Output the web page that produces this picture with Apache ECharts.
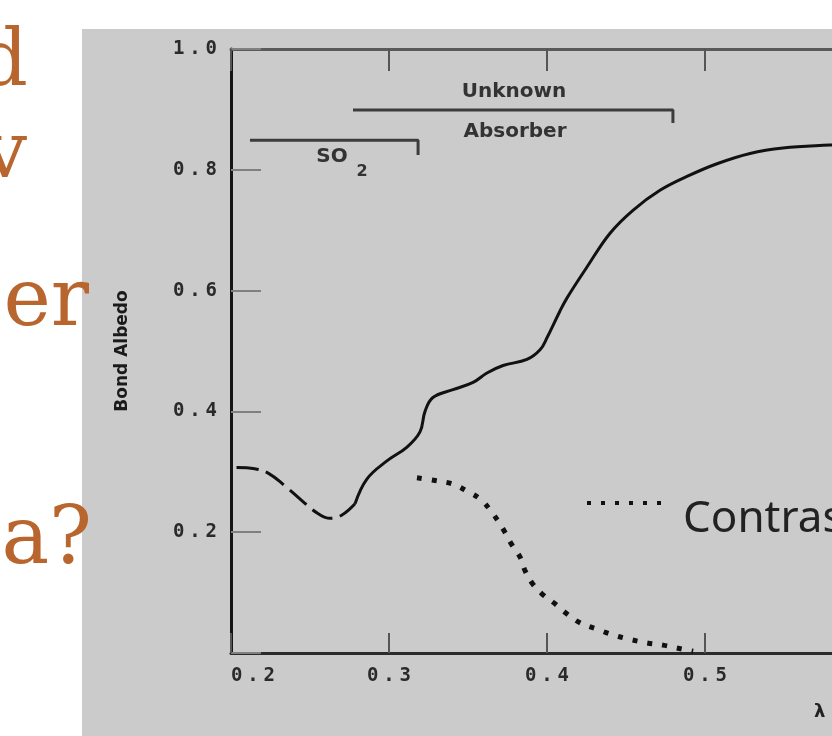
<!DOCTYPE html>
<html><head><meta charset="utf-8">
<script src="https://cdn.jsdelivr.net/npm/echarts@6/dist/echarts.min.js"></script>
<style>
html,body{margin:0;padding:0;background:#fff;overflow:hidden;}
#panel{position:absolute;left:82px;top:29px;width:750px;height:707px;background:#cbcbcb;}
#chart{position:absolute;left:0;top:0;width:832px;height:736px;}
</style></head><body>
<div id="panel"></div><div id="chart"></div>
<script>
// Bond albedo, dashed (short-wavelength) part
const dashedAlbedo = [[0.2035,0.307],[0.215,0.305],[0.224,0.297],[0.234,0.277],[0.245,0.252],[0.255,0.231],[0.2627,0.223],[0.270,0.228],[0.2785,0.247]];
// Bond albedo, solid part
const solidAlbedo = [[0.2785,0.247],[0.286,0.288],[0.2987,0.318],[0.3114,0.341],[0.3196,0.366],[0.3228,0.400],[0.3278,0.423],[0.3405,0.436],[0.3532,0.448],[0.362,0.4636],[0.3722,0.476],[0.3873,0.486],[0.3956,0.502],[0.400,0.522],[0.408,0.565],[0.4127,0.588],[0.4253,0.639],[0.4399,0.695],[0.4544,0.733],[0.4715,0.766],[0.4886,0.789],[0.5076,0.810],[0.5285,0.827],[0.5494,0.836],[0.579,0.841],[0.61,0.845],[0.64,0.846]];
// Contrast (dotted)
const contrast = [[0.3177,0.290],[0.3304,0.285],[0.340,0.280],[0.3494,0.268],[0.3576,0.255],[0.364,0.237],[0.369,0.2185],[0.3734,0.200],[0.3778,0.179],[0.3829,0.159],[0.386,0.137],[0.3905,0.116],[0.3968,0.098],[0.4044,0.083],[0.4127,0.0646],[0.4209,0.050],[0.431,0.040],[0.4418,0.030],[0.4519,0.023],[0.4633,0.0166],[0.4734,0.013],[0.4854,0.0066],[0.4925,0.003]];
// Absorber range brackets
const so2Bracket = [[0.212,0.849],[0.3184,0.849],[0.3184,0.8245]];
const unknownBracket = [[0.2772,0.899],[0.4797,0.899],[0.4797,0.8775]];
const xTickLabels = ['0.2','0.3','0.4','0.5','0.6','0.7'];
const yTickLabels = ['1.0','0.8','0.6','0.4','0.2'];

const labelRich = {
  d:{fontFamily:'DejaVu Sans Mono',fontWeight:'bold',fontSize:19,color:'#2a2a2a'},
  p:{fontFamily:'DejaVu Sans Mono',fontWeight:'bold',fontSize:19,color:'#2a2a2a',width:21,align:'center'}
};
function fmtTick(s){ const parts = s.split('.'); return '{d|'+parts[0]+'}{p|.}{d|'+parts[1]+'}'; }

const chart = echarts.init(document.getElementById('chart'), null, {renderer:'canvas'});
const serif = '"DejaVu Serif", serif';
const orange = '#b8652e';
chart.setOption({
  backgroundColor:'transparent',
  animation:false,
  grid:{left:231, top:49, width:790, height:604, outerBoundsMode:'none', containLabel:false},
  xAxis:[{
    type:'value', min:0.2, max:0.7, interval:0.1, position:'bottom',
    axisLine:{show:true,onZero:false,lineStyle:{color:'#2b2b2b',width:3}},
    axisTick:{inside:true,length:20,lineStyle:{color:'#555',width:2}},
    axisLabel:{margin:14,rich:labelRich,alignMinLabel:'left',
      formatter:function(v){ const s=v.toFixed(1); return xTickLabels.indexOf(s)>=0?fmtTick(s):''; }},
    splitLine:{show:false}
  },{
    type:'value', min:0.2, max:0.7, interval:0.1, position:'top',
    axisLine:{show:true,onZero:false,lineStyle:{color:'#5a5a5a',width:3}},
    axisTick:{inside:true,length:22,lineStyle:{color:'#555',width:2}},
    axisLabel:{show:false}, splitLine:{show:false}
  }],
  yAxis:{
    type:'value', min:0, max:1, interval:0.2,
    axisLine:{show:true,onZero:false,lineStyle:{color:'#151515',width:3}},
    axisTick:{inside:true,length:30,lineStyle:{color:'#808080',width:2}},
    axisLabel:{margin:14,rich:labelRich,
      formatter:function(v){ const s=v.toFixed(1); return yTickLabels.indexOf(s)>=0?fmtTick(s):''; }},
    splitLine:{show:false},
    name:'Bond Albedo', nameLocation:'middle', nameGap:100, nameRotate:90,
    nameTextStyle:{fontFamily:'DejaVu Sans',fontWeight:'bold',fontSize:17,color:'#1a1a1a'}
  },
  series:[
    {type:'line',data:dashedAlbedo,smooth:0.4,symbol:'none',clip:false,
     lineStyle:{color:'#111',width:3,type:[22,8]}},
    {type:'line',data:solidAlbedo,smooth:0.4,symbol:'none',
     lineStyle:{color:'#111',width:3}},
    {type:'line',data:contrast,smooth:0.4,symbol:'none',
     lineStyle:{color:'#111',width:5,type:[5,10],cap:'butt'}},
    {type:'line',data:so2Bracket,symbol:'none',lineStyle:{color:'#3c3c3c',width:3}},
    {type:'line',data:unknownBracket,symbol:'none',lineStyle:{color:'#3c3c3c',width:3}}
  ],
  graphic:[
    {type:'text',x:28,y:65,style:{text:'d',font:'78px '+serif,fill:orange,textAlign:'right',textVerticalAlign:'middle'}},
    {type:'text',x:27,y:157,style:{text:'v',font:'78px '+serif,fill:orange,textAlign:'right',textVerticalAlign:'middle'}},
    {type:'text',x:89,y:304,style:{text:'cer',font:'80px '+serif,fill:orange,textAlign:'right',textVerticalAlign:'middle'}},
    {type:'text',x:92,y:542,style:{text:'a?',font:'80px '+serif,fill:orange,textAlign:'right',textVerticalAlign:'middle'}},
    {type:'text',x:514,y:92,style:{text:'Unknown',font:'bold 20px DejaVu Sans',fill:'#333',textAlign:'center',textVerticalAlign:'middle'}},
    {type:'text',x:515,y:132,style:{text:'Absorber',font:'bold 20px DejaVu Sans',fill:'#333',textAlign:'center',textVerticalAlign:'middle'}},
    {type:'text',x:332,y:157,style:{text:'SO',font:'bold 20px DejaVu Sans',fill:'#333',textAlign:'center',textVerticalAlign:'middle'}},
    {type:'text',x:362,y:172,style:{text:'2',font:'bold 16px DejaVu Sans',fill:'#333',textAlign:'center',textVerticalAlign:'middle'}},
    {type:'line',shape:{x1:587,y1:503,x2:662,y2:503},style:{stroke:'#111',lineWidth:4,lineDash:[4,10]}},
    {type:'text',x:683,y:519,style:{text:'Contrast',font:'44px Noto Sans',fill:'#222',textAlign:'left',textVerticalAlign:'middle'}},
    {type:'text',x:814,y:712,style:{text:'λ',font:'bold 18px DejaVu Sans',fill:'#222',textAlign:'left',textVerticalAlign:'middle'}}
  ]
});
</script>
</body></html>
